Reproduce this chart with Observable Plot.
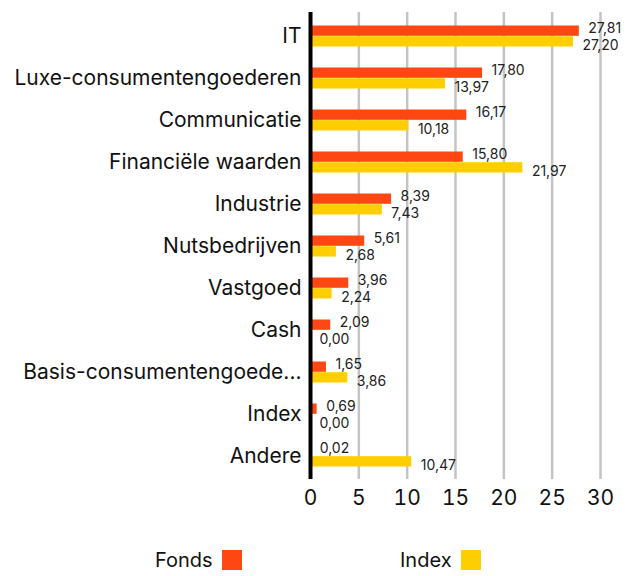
<!DOCTYPE html>
<html>
<head>
<meta charset="utf-8">
<script src="https://cdn.jsdelivr.net/npm/d3@7"></script>
<script src="https://cdn.jsdelivr.net/npm/@observablehq/plot@0.6"></script>
<style>
  body { margin: 0; background: #fff; font-family: Inter, "Noto Sans", sans-serif; }
  #chart svg { display: block; }
  .legend { position: relative; height: 51px; width: 626px; font-size: 20px; color: #111; }
  .legend .item { position: absolute; top: 23px; display: flex; align-items: center; gap: 9px; }
  .legend .sw { width: 20px; height: 20px; display: inline-block; }
</style>
</head>
<body>
<div id="chart"></div>
<div class="legend" id="legend"></div>
<script>
const categories = ["IT","Luxe-consumentengoederen","Communicatie","Financiële waarden","Industrie","Nutsbedrijven","Vastgoed","Cash","Basis-consumentengoede...","Index","Andere"];
const fondsValues = [27.81,17.80,16.17,15.80,8.39,5.61,3.96,2.09,1.65,0.69,0.02];
const indexValues = [27.20,13.97,10.18,21.97,7.43,2.68,2.24,0.00,3.86,0.00,10.47];
const seriesNames = ["Fonds","Index"];
const seriesColors = ["#FF4713","#FFCE00"];
const xTicks = [0,5,10,15,20,25,30];

const rows = categories.map((c,i)=>({category:c, fonds:fondsValues[i], index:indexValues[i]}));
const fmt = v => v.toFixed(2).replace(".", ",");
const font = "Inter, 'Noto Sans', sans-serif";

const chart = Plot.plot({
  width: 626,
  height: 525,
  marginLeft: 310,
  marginRight: 26,
  marginTop: 12,
  marginBottom: 46,
  style: {fontFamily: font, background: "#fff", color: "#111"},
  x: {domain: [0,30]},
  y: {domain: categories, padding: 0},
  marks: [
    Plot.ruleX(xTicks.slice(1), {stroke: "#c4c4c4", strokeWidth: 2.5}),
    Plot.barX(rows, {x: "fonds", y: "category", fill: seriesColors[0], insetTop: 10.5, insetBottom: 21.2}),
    Plot.barX(rows, {x: "index", y: "category", fill: seriesColors[1], insetTop: 21.2, insetBottom: 10.5}),
    Plot.ruleX([0], {stroke: "#000", strokeWidth: 4}),
    Plot.text(rows, {x: "fonds", y: "category", text: d => fmt(d.fonds), textAnchor: "start", dx: 9, dy: -8, fontSize: 14, fill: "#222"}),
    Plot.text(rows, {x: "index", y: "category", text: d => fmt(d.index), textAnchor: "start", dx: 9, dy: 9, fontSize: 14, fill: "#222"}),
    Plot.axisX(xTicks, {tickSize: 0, tickPadding: 11, fontSize: 21, label: null, tickFormat: d => String(d)}),
    Plot.axisY({tickSize: 0, tickPadding: 9, fontSize: 21, label: null})
  ]
});
document.getElementById("chart").appendChild(chart);

const legend = document.getElementById("legend");
const legendLeft = [155, 400];
seriesNames.forEach((name, i) => {
  const item = document.createElement("div");
  item.className = "item";
  item.style.left = legendLeft[i] + "px";
  item.innerHTML = `<span>${name}</span><span class="sw" style="background:${seriesColors[i]}"></span>`;
  legend.appendChild(item);
});
</script>
</body>
</html>
